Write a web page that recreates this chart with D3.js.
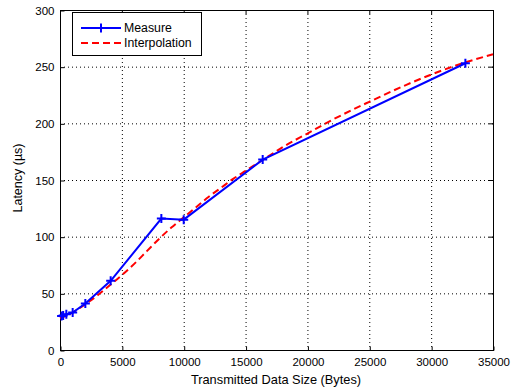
<!DOCTYPE html>
<html>
<head>
<meta charset="utf-8">
<script src="https://cdn.jsdelivr.net/npm/d3@7"></script>
<style>
  body { margin: 0; background: #fff; }
  text { font-family: "Liberation Sans", Arial, sans-serif; }
</style>
</head>
<body>
<svg id="chart" width="518" height="391"></svg>
<script>
// measured points
const measSize = [128, 256, 512, 1024, 2048, 4096, 8192, 10000, 16384, 32768];
const measLat  = [30, 30.5, 31.5, 33, 41, 61, 116, 115, 168, 253];

// interpolation curve
const interpSize = [0, 1000, 2000, 3000, 4000, 5000, 6000, 7000, 8000, 9000, 10000,
  11000, 12000, 13000, 14000, 15000, 16000, 17000, 18000, 20000, 22000, 25000,
  28000, 30000, 32000, 35000];
const interpLat = [28, 33, 40, 48, 57, 66, 76, 87, 98, 108, 117,
  126, 135, 143, 151, 158, 165, 172, 179, 191, 203, 219,
  234, 243, 251, 261];

const xTicks = [0, 5000, 10000, 15000, 20000, 25000, 30000, 35000];
const yTicks = [0, 50, 100, 150, 200, 250, 300];

const svg = d3.select("#chart");
const pLeft = 60, pRight = 493, pTop = 10, pBottom = 350;

const x = d3.scaleLinear().domain([0, 35000]).range([pLeft, pRight]);
const y = d3.scaleLinear().domain([0, 300]).range([pBottom, pTop]);

// grid
const grid = svg.append("g")
  .attr("stroke", "#000").attr("stroke-width", 1)
  .attr("stroke-dasharray", "1,3");
grid.selectAll(".gx").data(xTicks.slice(1, -1)).join("line")
  .attr("x1", d => x(d) + 0.5).attr("x2", d => x(d) + 0.5)
  .attr("y1", pTop).attr("y2", pBottom);
grid.selectAll(".gy").data(yTicks.slice(1, -1)).join("line")
  .attr("y1", d => y(d) + 0.5).attr("y2", d => y(d) + 0.5)
  .attr("x1", pLeft).attr("x2", pRight);

// axes (MATLAB style: inward ticks, box)
const xAxis = d3.axisBottom(x).tickValues(xTicks).tickFormat(d3.format("d")).tickSize(-4).tickPadding(7);
const yAxis = d3.axisLeft(y).tickValues(yTicks).tickFormat(d3.format("d")).tickSize(-4).tickPadding(6);
const gx = svg.append("g").attr("transform", `translate(0.5,${pBottom + 0.5})`).call(xAxis);
const gy = svg.append("g").attr("transform", `translate(${pLeft + 0.5},0.5)`).call(yAxis);
[gx, gy].forEach(g => {
  g.select(".domain").remove();
  g.selectAll("text").attr("font-size", 11.5).attr("fill", "#000")
    .attr("font-family", "'Liberation Sans', Arial, sans-serif");
});
// top/right ticks
svg.append("g").selectAll("line").data(xTicks).join("line")
  .attr("x1", d => x(d) + 0.5).attr("x2", d => x(d) + 0.5)
  .attr("y1", pTop).attr("y2", pTop + 4).attr("stroke", "#000");
svg.append("g").selectAll("line").data(yTicks).join("line")
  .attr("y1", d => y(d) + 0.5).attr("y2", d => y(d) + 0.5)
  .attr("x1", pRight - 4).attr("x2", pRight).attr("stroke", "#000");

svg.append("rect")
  .attr("x", pLeft + 0.5).attr("y", pTop + 0.5)
  .attr("width", pRight - pLeft).attr("height", pBottom - pTop)
  .attr("fill", "none").attr("stroke", "#000");

// interpolation
const line = d3.line().x(d => x(d[0])).y(d => y(d[1]));
svg.append("path")
  .datum(d3.zip(interpSize, interpLat))
  .attr("d", line.curve(d3.curveMonotoneX))
  .attr("fill", "none").attr("stroke", "#ff0000").attr("stroke-width", 2)
  .attr("stroke-dasharray", "7,4");

// measure
const measLine = d3.line().x(d => x(d[0])).y(d => y(d[1]));
svg.append("path")
  .datum(d3.zip(measSize, measLat))
  .attr("d", measLine)
  .attr("fill", "none").attr("stroke", "#0000ff").attr("stroke-width", 2);

const plus = (g, cx, cy, r) => {
  g.append("path")
    .attr("d", `M${cx - r},${cy}H${cx + r}M${cx},${cy - r}V${cy + r}`)
    .attr("stroke", "#0000ff").attr("stroke-width", 2);
};
const marks = svg.append("g");
d3.zip(measSize, measLat).forEach(d => plus(marks, x(d[0]), y(d[1]), 4.5));

// legend
const lg = svg.append("g");
lg.append("rect").attr("x", 72.5).attr("y", 12.5).attr("width", 129).attr("height", 43)
  .attr("fill", "#fff").attr("stroke", "#000");
lg.append("line").attr("x1", 81).attr("x2", 121).attr("y1", 28).attr("y2", 28)
  .attr("stroke", "#0000ff").attr("stroke-width", 2);
plus(lg, 101, 28, 4.5);
lg.append("line").attr("x1", 81).attr("x2", 121).attr("y1", 43).attr("y2", 43)
  .attr("stroke", "#ff0000").attr("stroke-width", 2).attr("stroke-dasharray", "7,4");
lg.append("text").attr("x", 124).attr("y", 32).attr("font-size", 12.3).text("Measure");
lg.append("text").attr("x", 124).attr("y", 47).attr("font-size", 12.3).text("Interpolation");

// axis labels
svg.append("text").attr("x", 276).attr("y", 384)
  .attr("text-anchor", "middle").attr("font-size", 12.8)
  .text("Transmitted Data Size (Bytes)");
svg.append("text")
  .attr("transform", `translate(22,178) rotate(-90)`)
  .attr("text-anchor", "middle").attr("font-size", 12.5)
  .text("Latency (µs)");
</script>
</body>
</html>
